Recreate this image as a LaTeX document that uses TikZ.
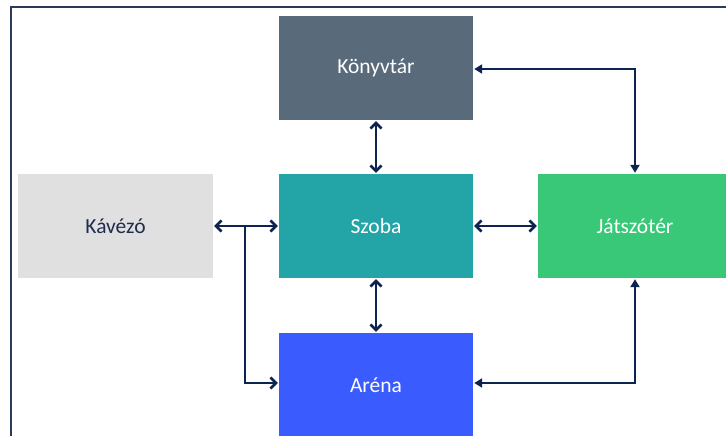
\documentclass[tikz,border=0pt]{standalone}
\usepackage{fontspec}
\setmainfont{Carlito}
\usetikzlibrary{arrows.meta}
\definecolor{navy}{HTML}{0E2450}
\definecolor{framec}{HTML}{2A3A5A}
\definecolor{cslate}{HTML}{596A7B}
\definecolor{cgrey}{HTML}{E0E0E0}
\definecolor{cteal}{HTML}{23A5A8}
\definecolor{cgreen}{HTML}{38C878}
\definecolor{cblue}{HTML}{3A5CFF}
\definecolor{darktext}{HTML}{1F2D4D}
\tikzset{
  tri/.tip={Triangle[length=8pt,width=9pt]},
  chv/.tip={Straight Barb[length=5.5pt,width=11pt,line width=2.6pt]}
}
\begin{document}
\begin{tikzpicture}[x=1pt,y=-1pt,
  room/.style={rectangle, minimum width=194pt, minimum height=104pt, inner sep=0pt, text=white, font=\fontsize{21.5}{24}\selectfont},
  conn/.style={draw=navy, line width=2.8pt},
  chev/.style={conn, {chv}-{chv}}
]
\useasboundingbox (0,0) rectangle (726,436);
\begin{scope}
\clip (0,0) rectangle (726,436);
\draw[framec, line width=2.2pt] (11,440) -- (11,7) -- (730,7);
\node[room, fill=cslate] (kon) at (376,68) {Könyvtár};
\node[room, fill=cgrey, minimum width=195pt, text=darktext] (kav) at (115.5,226) {Kávézó};
\node[room, fill=cteal] (szo) at (376,226) {Szoba};
\node[room, fill=cgreen] (jat) at (635,226) {Játszótér};
\node[room, fill=cblue] (are) at (376,385) {Aréna};
\end{scope}
% connectors
\draw[chev, shorten <=1pt, shorten >=1pt] (kon.south) -- (szo.north);
\draw[chev, shorten <=1pt, shorten >=1pt] (szo.south) -- (are.north);
\draw[chev, shorten <=1pt, shorten >=1pt] (kav.east) -- (szo.west);
\draw[chev, shorten <=1pt, shorten >=1pt] (szo.east) -- (jat.west);
\coordinate (br) at (245,226);
\coordinate (brd) at (245,383);
\draw[conn, -{chv}, shorten >=1pt] (br) -- (brd) -- (are.west |- brd);
\coordinate (c1) at (635,69);
\draw[conn, {tri}-{tri}, shorten <=1pt, shorten >=1pt] (kon.east |- c1) -- (c1) -- (jat.north);
\coordinate (c2) at (635,383);
\draw[conn, {tri}-{tri}, shorten <=1pt, shorten >=1pt] (are.east |- c2) -- (c2) -- (jat.south);
\end{tikzpicture}
\end{document}
